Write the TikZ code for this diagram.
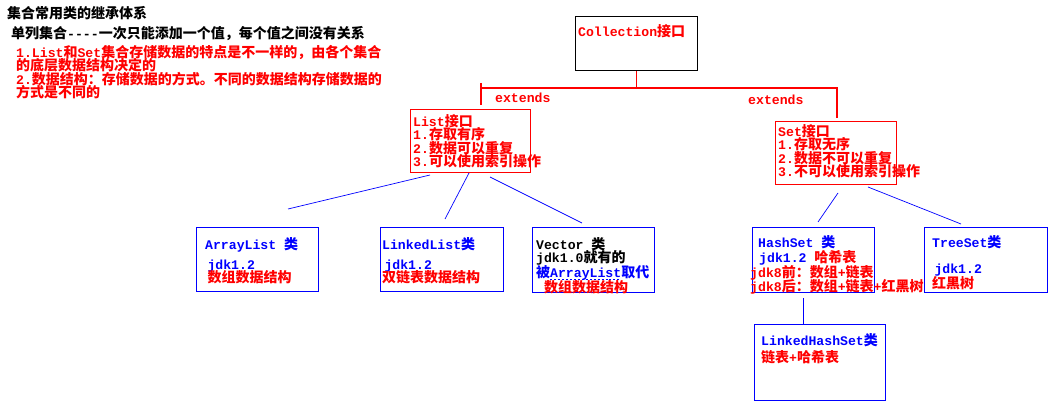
\documentclass[tikz,border=0pt]{standalone}
\usepackage{fontspec}
\setmonofont{Liberation Mono}[Scale=0.94]
\newfontfamily\zhfont{Noto Sans CJK SC}

% Latin runs in the mono face
\newcommand\en[1]{{\ttfamily #1}}
% dashed underline
\newcommand\dashul[1]{\setbox0\hbox{#1}\rlap{\raisebox{-2.5pt}{\hbox to \wd0{\xleaders\hbox{\vrule width 2pt height 0.7pt\kern 1.8pt}\hfil}}}\box0}

\tikzset{
    iface/.style = {
        draw=red,
        line width=0.8pt,
        anchor=north west,
        inner sep=0pt
    },
    cls/.style = {
        draw=blue,
        line width=0.8pt,
        anchor=north west,
        inner sep=0pt
    },
    inherit/.style = {
        red,
        line width=1.4pt
    },
    relate/.style = {
        blue,
        line width=0.7pt
    },
    txt/.style = {
        anchor=north west,
        inner sep=0pt,
        align=left,
        font=\zhfont\bfseries\fontsize{14}{13.5}\selectfont
    }
}

\begin{document}
\lineskiplimit=-20pt
\begin{tikzpicture}[x=1pt, y=-1pt]
    \useasboundingbox (0,0) rectangle (1055,420);

    % Draw headings
    \node[txt] (title) at (7,6) {集合常用类的继承体系};
    \node[txt] (single) at (11,26) {单列集合\en{----}一次只能添加一个值，每个值之间没有关系};
    \node[txt, red] (notes) at (16,45) {\en{1.List}和\en{Set}集合存储数据的特点是不一样的，由各个集合\\的底层数据结构决定的\\\en{2.}数据结构：存储数据的方式。不同的数据结构存储数据的\\方式是不同的};

    % Draw interfaces
    \node[iface, draw=black, line width=1.2pt, minimum width=122pt, minimum height=54pt] (coll) at (575,16) {};
    \node[iface, minimum width=120pt, minimum height=63pt] (list) at (410,109) {};
    \node[iface, minimum width=121pt, minimum height=63pt] (set) at (775,121) {};

    \node[txt, red] (colltxt) at ([shift={(3,8)}]coll.north west) {\en{Collection}接口};
    \node[txt, red] (listtxt) at ([shift={(3,5)}]list.north west) {\en{List}接口\\\en{1.}存取有序\\\en{2.}数据可以重复\\\en{3.}可以使用索引操作};
    \node[txt, red] (settxt) at ([shift={(3,3)}]set.north west) {\en{Set}接口\\\en{1.}存取无序\\\en{2.}数据不可以重复\\\en{3.}不可以使用索引操作};

    % Draw extends
    \coordinate (listtop) at (481,83);
    \coordinate (listend) at (481,105);
    \coordinate (setend) at (837,118);
    \draw[inherit] (coll.south) -- ++(0,17) coordinate (fork);
    \draw[inherit] (listtop) -- (listend);
    \draw[inherit] (listtop |- fork) -- (setend |- fork) -- (setend);
    \node[txt, red, anchor=west] (extl) at (495,98) {\en{extends}};
    \node[txt, red, anchor=west] (extr) at (748,100) {\en{extends}};

    % Draw classes
    \node[cls, minimum width=122pt, minimum height=64pt] (arraylist) at (196,227) {};
    \node[cls, minimum width=123pt, minimum height=64pt] (linkedlist) at (380,227) {};
    \node[cls, minimum width=122pt, minimum height=65pt] (vector) at (532,227) {};
    \node[cls, minimum width=122pt, minimum height=65pt] (hashset) at (752,227) {};
    \node[cls, minimum width=123pt, minimum height=65pt] (treeset) at (924,227) {};
    \node[cls, minimum width=131pt, minimum height=76pt] (linkedhashset) at (754,324) {};

    \node[txt, blue] (arraytxt) at ([shift={(9,10)}]arraylist.north west) {\en{ArrayList }类\\[6.5pt]\,\en{jdk1.2}\\\,\textcolor{red}{数组数据结构}};
    \node[txt, blue] (linkedtxt) at ([shift={(2,10)}]linkedlist.north west) {\en{LinkedList}类\\[6.5pt]\,\en{jdk1.2}\\\textcolor{red}{双链表数据结构}};
    \node[txt] (vectortxt) at ([shift={(4,10)}]vector.north west) {\en{Vector }类\\\en{jdk1.0}就有的\\[1.5pt]\textcolor{blue}{被\dashul{\en{ArrayList}}取代}\\[1pt]\hspace*{8pt}\textcolor{red}{数组数据结构}};
    \node[txt, blue] (hashtxt) at ([shift={(-2,8)}]hashset.north west) {\hspace*{8pt}\en{HashSet }类\\[1.5pt]\hspace*{9pt}\en{jdk1.2 }\textcolor{red}{哈希表}\\[1.5pt]\textcolor{red}{\en{jdk8}前：数组\en{+}链表}\\[0.5pt]\textcolor{red}{\en{jdk8}后：数组\en{+}链表\en{+}红黑树}};
    \node[txt, blue] (treetxt) at ([shift={(8,8)}]treeset.north west) {\en{TreeSet}类\\[12.5pt]\,\en{jdk1.2}\\[1.5pt]\textcolor{red}{红黑树}};
    \node[txt, blue] (lhashtxt) at ([shift={(7,9)}]linkedhashset.north west) {\en{LinkedHashSet}类\\[3.5pt]\textcolor{red}{链表\en{+}哈希表}};

    % Draw links
    \coordinate (la1) at (430,175);
    \coordinate (la2) at (288,209);
    \coordinate (lb1) at (469,173);
    \coordinate (lb2) at (445,219);
    \coordinate (lc1) at (490,177);
    \coordinate (lc2) at (582,223);
    \coordinate (sa1) at (838,193);
    \coordinate (sa2) at (818,222);
    \coordinate (sb1) at (868,187);
    \coordinate (sb2) at (961,224);
    \coordinate (hs) at (803,298);
    \draw[relate] (la1) -- (la2);
    \draw[relate] (lb1) -- (lb2);
    \draw[relate] (lc1) -- (lc2);
    \draw[relate] (sa1) -- (sa2);
    \draw[relate] (sb1) -- (sb2);
    \draw[relate] (hs) -- (hs |- linkedhashset.north);
\end{tikzpicture}
\end{document}
